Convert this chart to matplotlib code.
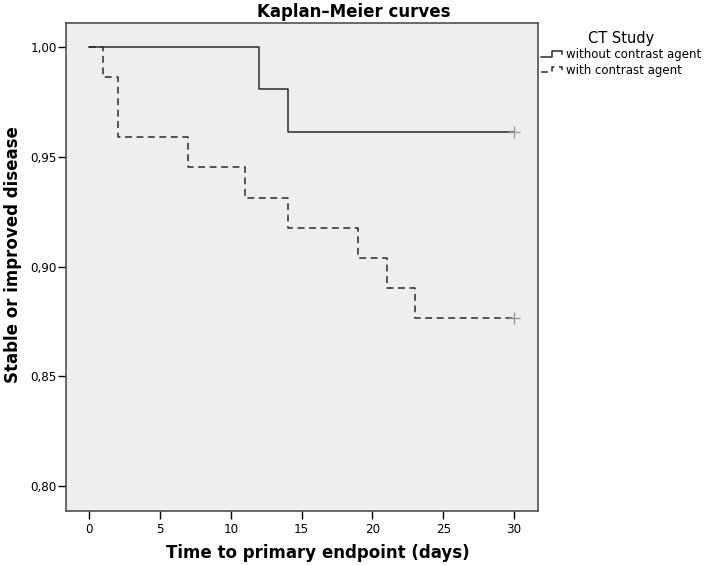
import numpy as np
import matplotlib
matplotlib.use("Agg")
import matplotlib.pyplot as plt
from matplotlib.lines import Line2D
from matplotlib.legend_handler import HandlerBase
from matplotlib.ticker import FuncFormatter
from matplotlib import font_manager

# Kaplan-Meier estimates
time_without = [0, 12, 14, 30]
surv_without = [1.0, 0.9808, 0.9615, 0.9615]
time_with = [0, 1, 2, 7, 11, 14, 19, 21, 23, 30]
surv_with = [1.0, 0.9863, 0.9589, 0.9452, 0.9315, 0.9178, 0.9041, 0.8904,
             0.8767, 0.8767]
group_labels = ["without contrast agent", "with contrast agent"]
x_ticks = [0, 5, 10, 15, 20, 25, 30]
y_ticks = [0.80, 0.85, 0.90, 0.95, 1.00]

plt.rcParams['font.family'] = ['DejaVu Sans']

names = {f.name for f in font_manager.fontManager.ttflist}
if 'Liberation Sans Narrow' in names:
    tick_font = dict(family='Liberation Sans Narrow')
else:
    tick_font = dict(family='DejaVu Sans', stretch='condensed')


class StepHandler(HandlerBase):
    """Draw the little step icon SPSS uses in its survival legends."""
    def create_artists(self, legend, orig_handle, xdescent, ydescent,
                       width, height, fontsize, trans):
        xs = np.array([0.0, 0.5, 0.5, 0.95, 0.95]) * width - xdescent
        ys = np.array([0.15, 0.15, 0.85, 0.85, 0.5]) * height - ydescent
        line = Line2D(xs, ys)
        line.update_from(orig_handle)
        line.set_drawstyle('default')
        line.set_marker('')
        line.set_clip_on(False)
        line.set_clip_box(None)
        line.set_transform(trans)
        return [line]


fig = plt.figure(figsize=(7.08, 5.65), dpi=100)
ax = fig.add_axes([65.7/708, 1 - 511/565, (537.7-65.7)/708, (511-22.7)/565])
ax.set_facecolor('#eeeeee')

l1, = ax.step(time_without, surv_without, where='post', color='#2b2b2b',
              lw=1.1)
l2, = ax.step(time_with, surv_with, where='post', color='#2b2b2b', lw=1.1,
              dashes=(4.5, 3))
# censored observations at end of follow-up
ax.plot(time_without[-1:], surv_without[-1:], '+', color='#999999', ms=8,
        mew=1)
ax.plot(time_with[-1:], surv_with[-1:], '+', color='#999999', ms=8, mew=1)

ax.set_xlim(-1.67, 31.67)
ax.set_ylim(0.7886, 1.0112)
ax.set_xticks(x_ticks)
ax.set_yticks(y_ticks)
ax.yaxis.set_major_formatter(FuncFormatter(lambda v, p: f"{v:.2f}".replace('.', ',')))
ax.tick_params(direction='out', length=5.5, width=1, color='black',
               labelsize=9.5)
ax.tick_params(axis='y', pad=1)
ax.tick_params(axis='x', pad=3)
for lab in ax.get_xticklabels() + ax.get_yticklabels():
    lab.set_fontproperties(font_manager.FontProperties(size=9.5, **tick_font))
for sp in ax.spines.values():
    sp.set_color('#505050')
    sp.set_linewidth(1.2)

fig.text(0.5, 1 - 17/565, "Kaplan\u2013Meier curves", ha='center',
         va='baseline', fontsize=12, fontweight='bold')
fig.text(318/708, 1 - 558/565, "Time to primary endpoint (days)", ha='center',
         va='baseline', fontsize=12, fontweight='bold')
fig.text(4/708, 1 - 255/565, "Stable or improved disease", ha='left',
         va='center', rotation=90, fontsize=12, fontweight='bold')

leg = fig.legend([l1, l2], group_labels, title="CT Study",
                 loc='upper left', bbox_to_anchor=(541/708, 1 - 31/565),
                 frameon=False, fontsize=8.5, title_fontsize=10.5,
                 handlelength=1.9, handletextpad=0.2, labelspacing=0.2,
                 borderaxespad=0, borderpad=0,
                 handler_map={l1: StepHandler(), l2: StepHandler()})

fig.savefig("out.png", dpi=100)
